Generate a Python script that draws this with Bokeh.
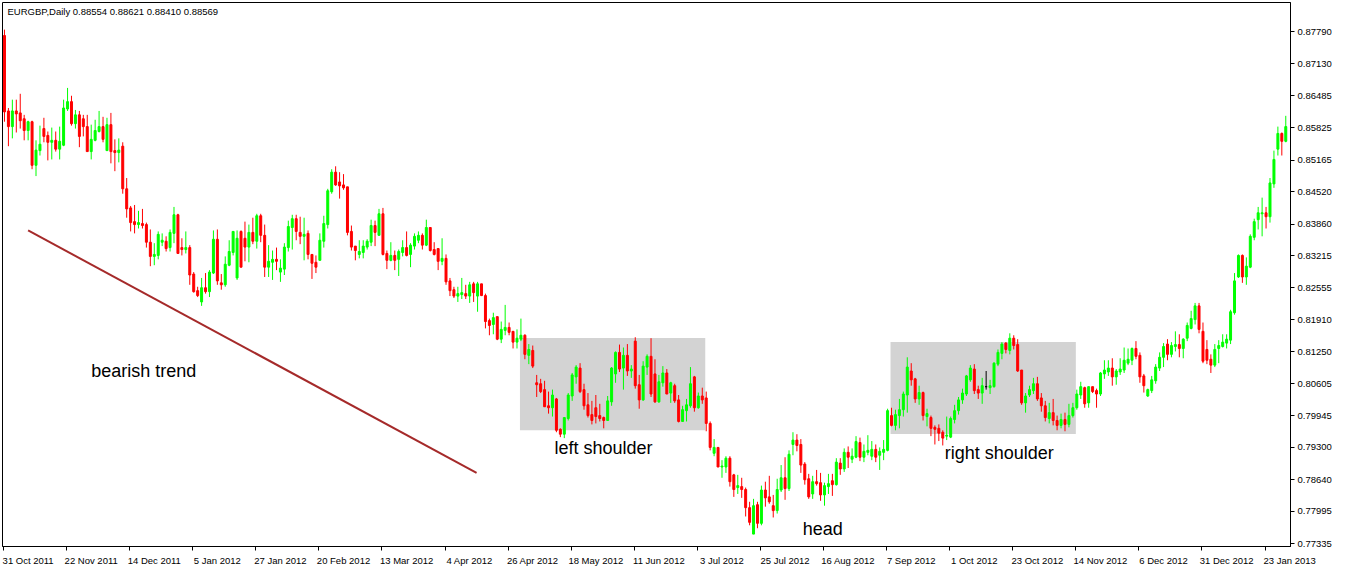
import numpy as np
from bokeh.plotting import figure
from bokeh.models import ColumnDataSource, FixedTicker, PrintfTickFormatter, Range1d
from bokeh.core.properties import value
from bokeh.embed import file_html
from bokeh.resources import INLINE

header_text = "EURGBP,Daily  0.88554 0.88621 0.88410 0.88569"

date_labels = ["31 Oct 2011", "22 Nov 2011", "14 Dec 2011", "5 Jan 2012", "27 Jan 2012",
               "20 Feb 2012", "13 Mar 2012", "4 Apr 2012", "26 Apr 2012", "18 May 2012",
               "11 Jun 2012", "3 Jul 2012", "25 Jul 2012", "16 Aug 2012", "7 Sep 2012",
               "1 Oct 2012", "23 Oct 2012", "14 Nov 2012", "6 Dec 2012", "31 Dec 2012",
               "23 Jan 2013"]
bars_per_label = 16

price_ticks = [0.87790, 0.87130, 0.86485, 0.85825, 0.85165, 0.84520, 0.83860, 0.83215,
               0.82555, 0.81910, 0.81250, 0.80605, 0.79945, 0.79300, 0.78640, 0.77995, 0.77335]

# daily EURGBP prices, in units of 0.0001
open_pips = [
    8771, 8617, 8585, 8617, 8613, 8601, 8577, 8595, 8506, 8536,
    8581, 8567, 8553, 8557, 8539, 8547, 8621, 8636, 8591, 8609,
    8601, 8585, 8534, 8557, 8575, 8585, 8536, 8589, 8536, 8532,
    8545, 8458, 8419, 8391, 8385, 8387, 8385, 8349, 8320, 8322,
    8349, 8351, 8338, 8367, 8405, 8338, 8334, 8338, 8284, 8250,
    8227, 8256, 8248, 8286, 8355, 8266, 8262, 8302, 8328, 8276,
    8371, 8357, 8339, 8369, 8351, 8403, 8363, 8298, 8308, 8314,
    8288, 8294, 8338, 8379, 8397, 8369, 8361, 8367, 8324, 8308,
    8312, 8351, 8385, 8452, 8492, 8472, 8466, 8462, 8371, 8341,
    8324, 8328, 8339, 8349, 8383, 8363, 8407, 8326, 8312, 8322,
    8314, 8328, 8338, 8324, 8341, 8353, 8363, 8343, 8379, 8334,
    8336, 8310, 8316, 8270, 8252, 8239, 8242, 8244, 8239, 8264,
    8239, 8264, 8240, 8189, 8181, 8197, 8151, 8169, 8175, 8167,
    8145, 8151, 8159, 8118, 8128, 8062, 8060, 8048, 8015, 8011,
    8029, 7967, 7957, 7989, 8035, 8074, 8092, 8048, 8017, 7997,
    8011, 7995, 7991, 7985, 8023, 8080, 8124, 8092, 8118, 8086,
    8147, 8058, 8027, 8094, 8116, 8080, 8023, 8062, 8082, 8041,
    8056, 8027, 7983, 8005, 8015, 8074, 8011, 8035, 8031, 7979,
    7918, 7930, 7890, 7890, 7908, 7874, 7848, 7850, 7844, 7807,
    7753, 7813, 7775, 7843, 7829, 7811, 7801, 7843, 7868, 7846,
    7936, 7945, 7936, 7896, 7866, 7835, 7860, 7858, 7833, 7850,
    7862, 7854, 7898, 7886, 7920, 7906, 7910, 7940, 7910, 7920,
    7912, 7926, 7914, 7920, 7924, 7995, 7975, 7995, 8007, 8037,
    8086, 8070, 8029, 8042, 7993, 7991, 7971, 7969, 7961, 7953,
    7951, 7987, 8005, 8027, 8039, 8068, 8090, 8048, 8041, 8054,
    8052, 8054, 8100, 8122, 8143, 8128, 8153, 8140, 8088, 8021,
    8037, 8046, 8060, 8031, 8015, 7989, 8001, 7985, 7975, 7987,
    7977, 7995, 8011, 8037, 8052, 8021, 8054, 8046, 8039, 8080,
    8084, 8092, 8074, 8084, 8088, 8102, 8108, 8132, 8118, 8076,
    8035, 8046, 8066, 8092, 8114, 8141, 8120, 8136, 8140, 8132,
    8153, 8173, 8191, 8219, 8167, 8130, 8110, 8098, 8132, 8136,
    8143, 8149, 8205, 8278, 8322, 8278, 8298, 8359, 8395, 8407,
    8409, 8401, 8468, 8539, 8571, 8555]

high_pips = [
    8783, 8623, 8640, 8640, 8652, 8609, 8597, 8597, 8557, 8587,
    8603, 8575, 8583, 8575, 8585, 8640, 8664, 8648, 8619, 8617,
    8609, 8609, 8589, 8599, 8617, 8605, 8603, 8613, 8559, 8561,
    8553, 8480, 8423, 8425, 8413, 8417, 8389, 8375, 8347, 8371,
    8367, 8361, 8375, 8421, 8407, 8357, 8371, 8343, 8288, 8258,
    8276, 8286, 8292, 8373, 8375, 8284, 8320, 8353, 8371, 8373,
    8373, 8391, 8385, 8399, 8407, 8407, 8385, 8343, 8332, 8338,
    8314, 8347, 8393, 8405, 8405, 8401, 8399, 8373, 8324, 8322,
    8367, 8403, 8458, 8498, 8504, 8492, 8488, 8462, 8383, 8341,
    8353, 8353, 8355, 8395, 8393, 8417, 8419, 8332, 8349, 8332,
    8334, 8353, 8371, 8347, 8367, 8371, 8367, 8395, 8379, 8349,
    8336, 8357, 8324, 8276, 8258, 8258, 8276, 8262, 8268, 8268,
    8268, 8264, 8244, 8193, 8205, 8197, 8187, 8221, 8185, 8167,
    8171, 8193, 8161, 8141, 8138, 8078, 8070, 8066, 8044, 8048,
    8031, 7969, 7991, 8041, 8082, 8098, 8102, 8060, 8041, 8025,
    8037, 8019, 7993, 8035, 8094, 8126, 8140, 8134, 8141, 8098,
    8155, 8078, 8106, 8120, 8153, 8110, 8078, 8096, 8090, 8064,
    8060, 8037, 8015, 8029, 8094, 8076, 8042, 8052, 8044, 7983,
    7947, 7930, 7904, 7912, 7912, 7876, 7874, 7868, 7848, 7819,
    7825, 7819, 7852, 7860, 7872, 7833, 7866, 7894, 7910, 7924,
    7961, 7957, 7947, 7900, 7876, 7872, 7884, 7878, 7858, 7876,
    7876, 7908, 7908, 7928, 7932, 7928, 7953, 7950, 7936, 7955,
    7943, 7936, 7930, 7945, 8009, 8011, 8007, 8029, 8044, 8114,
    8102, 8072, 8056, 8044, 8009, 7995, 7975, 7977, 7965, 7993,
    7993, 8017, 8033, 8050, 8078, 8098, 8100, 8056, 8072, 8086,
    8068, 8104, 8130, 8145, 8145, 8163, 8159, 8151, 8088, 8041,
    8056, 8072, 8074, 8041, 8025, 8021, 8029, 7995, 7999, 8001,
    8019, 8021, 8048, 8064, 8054, 8054, 8054, 8050, 8084, 8108,
    8108, 8112, 8090, 8112, 8134, 8132, 8134, 8147, 8124, 8080,
    8050, 8076, 8100, 8124, 8143, 8151, 8145, 8167, 8161, 8153,
    8185, 8209, 8225, 8225, 8185, 8149, 8120, 8141, 8149, 8161,
    8161, 8211, 8286, 8324, 8324, 8318, 8365, 8397, 8421, 8440,
    8421, 8480, 8536, 8585, 8573, 8607]

low_pips = [
    8595, 8545, 8561, 8573, 8581, 8557, 8557, 8498, 8484, 8526,
    8553, 8516, 8518, 8534, 8518, 8545, 8617, 8587, 8581, 8543,
    8565, 8534, 8518, 8555, 8573, 8553, 8536, 8510, 8494, 8512,
    8448, 8399, 8371, 8367, 8377, 8377, 8338, 8300, 8302, 8314,
    8341, 8330, 8330, 8347, 8326, 8322, 8326, 8262, 8246, 8237,
    8219, 8244, 8237, 8284, 8262, 8252, 8258, 8300, 8322, 8272,
    8298, 8310, 8308, 8345, 8336, 8349, 8278, 8278, 8272, 8292,
    8268, 8282, 8330, 8334, 8353, 8345, 8312, 8314, 8274, 8286,
    8312, 8338, 8377, 8448, 8464, 8438, 8456, 8363, 8332, 8312,
    8316, 8316, 8334, 8341, 8341, 8363, 8322, 8294, 8310, 8292,
    8280, 8320, 8320, 8298, 8334, 8347, 8334, 8341, 8330, 8322,
    8292, 8302, 8262, 8239, 8235, 8227, 8233, 8233, 8225, 8227,
    8207, 8239, 8173, 8159, 8161, 8149, 8143, 8159, 8159, 8132,
    8132, 8147, 8110, 8100, 8092, 8033, 8041, 8013, 7999, 7993,
    7961, 7951, 7949, 7985, 8025, 8060, 8041, 8007, 7991, 7977,
    7979, 7983, 7969, 7985, 8015, 8062, 8084, 8048, 8076, 8072,
    8050, 8009, 8025, 8078, 8033, 8021, 8021, 8054, 8039, 8021,
    8021, 7981, 7983, 7983, 8011, 8003, 8009, 8019, 7963, 7924,
    7912, 7890, 7868, 7878, 7850, 7829, 7835, 7827, 7789, 7771,
    7753, 7765, 7771, 7809, 7815, 7787, 7795, 7839, 7823, 7841,
    7914, 7922, 7878, 7854, 7825, 7825, 7852, 7821, 7811, 7835,
    7831, 7852, 7874, 7880, 7888, 7898, 7908, 7902, 7900, 7914,
    7904, 7900, 7884, 7904, 7922, 7973, 7965, 7969, 7993, 8001,
    8056, 8021, 8017, 7985, 7973, 7953, 7936, 7943, 7934, 7945,
    7949, 7979, 7997, 8019, 8035, 8064, 8039, 8029, 8019, 8048,
    8039, 8052, 8096, 8110, 8122, 8120, 8130, 8084, 8017, 8001,
    8033, 8039, 8025, 8003, 7983, 7979, 7975, 7965, 7969, 7963,
    7971, 7991, 8007, 8029, 8011, 8011, 8041, 8011, 8035, 8070,
    8076, 8056, 8058, 8078, 8082, 8098, 8098, 8110, 8062, 8042,
    8033, 8041, 8060, 8086, 8094, 8108, 8114, 8126, 8114, 8112,
    8147, 8171, 8181, 8163, 8102, 8100, 8082, 8094, 8102, 8134,
    8132, 8141, 8201, 8276, 8266, 8262, 8296, 8353, 8375, 8361,
    8377, 8389, 8460, 8526, 8526, 8553]

close_pips = [
    8615, 8585, 8617, 8611, 8597, 8577, 8595, 8506, 8537, 8549,
    8565, 8553, 8557, 8539, 8555, 8623, 8636, 8591, 8609, 8565,
    8585, 8534, 8559, 8577, 8585, 8559, 8589, 8534, 8532, 8537,
    8458, 8417, 8389, 8385, 8389, 8383, 8349, 8320, 8324, 8365,
    8353, 8336, 8369, 8405, 8326, 8334, 8338, 8282, 8248, 8240,
    8256, 8248, 8288, 8355, 8270, 8262, 8304, 8330, 8371, 8357,
    8298, 8339, 8369, 8351, 8403, 8363, 8298, 8310, 8314, 8310,
    8296, 8339, 8381, 8397, 8371, 8361, 8365, 8324, 8306, 8298,
    8353, 8387, 8454, 8492, 8466, 8464, 8460, 8369, 8339, 8332,
    8330, 8341, 8351, 8383, 8369, 8407, 8324, 8312, 8322, 8312,
    8330, 8338, 8322, 8343, 8361, 8363, 8343, 8379, 8332, 8324,
    8310, 8316, 8268, 8250, 8239, 8244, 8246, 8239, 8262, 8246,
    8264, 8240, 8187, 8179, 8195, 8151, 8171, 8175, 8165, 8145,
    8153, 8159, 8120, 8130, 8096, 8058, 8044, 8013, 8011, 8037,
    7965, 7957, 7991, 8037, 8078, 8094, 8044, 8015, 7995, 7985,
    7993, 7989, 7985, 8025, 8092, 8124, 8090, 8118, 8086, 8090,
    8056, 8027, 8096, 8116, 8039, 8023, 8064, 8082, 8039, 8062,
    8025, 7983, 8007, 8017, 8060, 8011, 8035, 8027, 7979, 7930,
    7930, 7890, 7892, 7908, 7860, 7844, 7852, 7844, 7807, 7777,
    7811, 7775, 7843, 7827, 7819, 7801, 7844, 7868, 7846, 7916,
    7945, 7934, 7894, 7864, 7829, 7860, 7856, 7833, 7852, 7856,
    7854, 7900, 7886, 7920, 7910, 7912, 7942, 7910, 7922, 7924,
    7926, 7910, 7922, 7926, 8005, 7975, 7997, 8007, 8039, 8094,
    8068, 8029, 8042, 7995, 7999, 7969, 7967, 7959, 7949, 7955,
    7989, 8005, 8027, 8041, 8076, 8092, 8046, 8041, 8056, 8054,
    8056, 8102, 8124, 8141, 8130, 8153, 8138, 8086, 8021, 8035,
    8048, 8060, 8029, 8015, 7991, 8001, 7985, 7975, 7987, 7977,
    7995, 8011, 8039, 8054, 8019, 8054, 8044, 8039, 8082, 8088,
    8092, 8074, 8086, 8090, 8108, 8110, 8132, 8116, 8074, 8056,
    8048, 8068, 8094, 8114, 8136, 8120, 8138, 8140, 8132, 8151,
    8179, 8193, 8219, 8171, 8106, 8108, 8098, 8130, 8138, 8145,
    8151, 8207, 8270, 8322, 8278, 8300, 8361, 8391, 8409, 8409,
    8401, 8470, 8518, 8571, 8555, 8585]

# annotations (bar index / price coordinates)
box_left = [130.75, 224.75]
box_right = [177.75, 271.75]
box_top = [0.81534, 0.81454]
box_bottom = [0.79653, 0.79573]
trend_x = [6.0, 119.75]
trend_y = [0.83731, 0.78781]
note_text = ["bearish trend", "left shoulder", "head", "right shoulder"]
note_x = [22.0, 139.5, 202.5, 238.5]
note_y = [0.80860, 0.79296, 0.77633, 0.79177]

n = len(open_pips)
assert len(high_pips) == n and len(low_pips) == n and len(close_pips) == n

PIP = 0.0001
o = np.array(open_pips) * PIP
h = np.array(high_pips) * PIP
l = np.array(low_pips) * PIP
c = np.array(close_pips) * PIP
idx = np.arange(n)
colors = np.where(c > o, "#00FF00", np.where(c < o, "#FF0000", "#000000"))

src = ColumnDataSource(dict(x=idx, top=np.maximum(o, c), bottom=np.minimum(o, c),
                            high=h, low=l, color=colors))

FONT = "Liberation Sans"

p = figure(width=1334, height=568, output_backend="svg", toolbar_location=None,
           x_range=Range1d(-0.5, 326.2), y_range=Range1d(0.77277, 0.88384),
           y_axis_location="right", min_border_left=2, min_border_top=2,
           min_border_right=0, min_border_bottom=0)
p.xgrid.visible = False
p.ygrid.visible = False
p.outline_line_color = "black"
p.outline_line_alpha = 1.0
p.background_fill_color = "white"
p.border_fill_color = "white"

# shoulder boxes
p.quad(left=box_left, right=box_right, top=box_top, bottom=box_bottom,
       fill_color="#D3D3D3", line_color=None)
# trend line
p.line(trend_x, trend_y, line_color="#A52A2A", line_width=2)

# candles
p.segment(x0="x", y0="high", x1="x", y1="low", line_color="color", line_width=1, source=src)
p.vbar(x="x", width=0.5, top="top", bottom="bottom", fill_color="color",
       line_color="color", line_width=1, source=src)

# notes
p.text(x=note_x, y=note_y, text=note_text, text_font=value(FONT),
       text_font_size=value("18px"), text_color="black",
       text_align="left", text_baseline="middle")

# header
p.text(x=[p.x_range.start], y=[p.y_range.end], text=[header_text], x_offset=5, y_offset=3,
       text_font=value(FONT), text_font_size=value("9.5px"), text_color="black",
       text_align="left", text_baseline="top")

# right price axis
ya = p.yaxis[0]
ya.ticker = FixedTicker(ticks=price_ticks, minor_ticks=[])
ya.formatter = PrintfTickFormatter(format="%.5f")
ya.major_tick_out = 4
ya.major_tick_in = 0
ya.minor_tick_out = 0
ya.minor_tick_in = 0
ya.major_label_standoff = 3
ya.axis_line_color = "black"
ya.major_tick_line_color = "black"
ya.major_label_text_font = FONT
ya.major_label_text_font_size = "9.5px"
ya.major_label_text_color = "black"

# bottom date axis: tick marks at label start, label centred a bit to the right
xa = p.xaxis[0]
label_offset = 6
major = [bars_per_label * i + label_offset for i in range(len(date_labels))]
minor = [bars_per_label * i - 0.25 for i in range(len(date_labels))]
xa.ticker = FixedTicker(ticks=major, minor_ticks=minor)
xa.major_label_overrides = {m: lbl for m, lbl in zip(major, date_labels)}
xa.major_tick_out = 0
xa.major_tick_in = 0
xa.minor_tick_out = 4
xa.minor_tick_in = 0
xa.minor_tick_line_color = "black"
xa.major_label_standoff = 4
xa.axis_line_color = "black"
xa.major_label_text_font = FONT
xa.major_label_text_font_size = "9.5px"
xa.major_label_text_color = "black"

open("out.html", "w").write(file_html(p, INLINE))
